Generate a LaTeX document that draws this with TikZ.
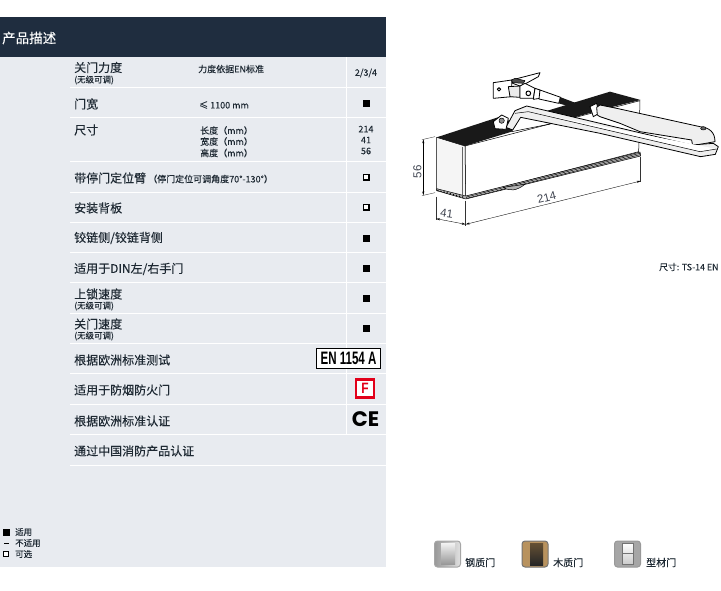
\documentclass[tikz,border=0pt]{standalone}
\usepackage{fontspec}
\setmainfont{Noto Sans CJK SC}[FakeBold=0.12]
\newfontfamily\latinfont{Liberation Sans}
\newfontfamily\cefont{Poppins}
\usetikzlibrary{arrows.meta}

\definecolor{panelbg}{HTML}{E8EBF0}
\definecolor{headbg}{HTML}{1F2D3F}
\definecolor{inktext}{HTML}{1E2933}
\definecolor{dimtext}{HTML}{3F4450}
\definecolor{firered}{HTML}{E2001A}
\definecolor{armgray}{HTML}{EFEFEF}
\definecolor{wood}{HTML}{B8925E}

\tikzset{
  rowlabel/.style={anchor=west,inner sep=0pt,text=inktext,font=\fontsize{12}{12}\selectfont},
  rowsmall/.style={anchor=west,inner sep=0pt,text=inktext,font=\fontsize{8.5}{8.5}\selectfont},
  rowvalue/.style={inner sep=0pt,text=inktext,font=\fontsize{9}{9}\selectfont},
  fullmark/.style={draw=none,fill=black,minimum size=7pt,inner sep=0pt},
  openmark/.style={draw=black,fill=white,line width=1.5pt,minimum size=5.5pt,inner sep=0pt},
  iconbox/.style={rounded corners=3pt,minimum size=26pt,inner sep=0pt,draw=#1,line width=1pt},
  icontext/.style={anchor=west,inner sep=0pt,text=inktext,font=\fontsize{10}{10}\selectfont},
  dimline/.style={draw=black,line width=.35pt,{Stealth[length=4pt,width=2pt]}-{Stealth[length=4pt,width=2pt]}},
  extline/.style={draw=black!80,line width=.35pt},
  dimlabel/.style={inner sep=0pt,text=dimtext,font=\latinfont\fontsize{11.5}{11.5}\selectfont},
  body/.style={draw=black,line width=.5pt,line join=round},
}

\begin{document}
\begin{tikzpicture}[x=1pt,y=-1pt]
\useasboundingbox (0,0) rectangle (721,590);

% panel
\fill[panelbg] (0,57) rectangle (386,567);
\fill[headbg] (0,17) rectangle (386,57);
\node (title) at (2,38) [anchor=west,inner sep=0pt,text=white,font=\fontsize{13.5}{13.5}\selectfont] {产品描述};

% row lines
\foreach \rowy in {87,117,161,192,222,252,282,313,343,373,404,434,465}
  \draw[white,line width=1pt] (70,\rowy) -- (386,\rowy);
\draw[white,line width=1pt] (346.5,57) -- (346.5,434);

% rows
\node (closeforce) at (74,67.5) [rowlabel] {关门力度};
\node (closeforcesub) at (74,80) [rowsmall] {(无级可调)};
\node (forcenote) at (198,69) [rowvalue,anchor=west] {力度依据EN标准};
\node (forceval) at (366,73) [rowvalue] {2/3/4};

\node (width) at (74,104) [rowlabel] {门宽};
\node (widthval) at (199,105) [rowvalue,anchor=west] {≤ 1100 mm};
\node (widthmark) at (366,103) [fullmark] {};

\node (size) at (74,130) [rowlabel] {尺寸};
\node (sizel) at (200,130.5) [rowvalue,anchor=west] {长度（mm）};
\node (sizew) at (200,141.5) [rowvalue,anchor=west] {宽度（mm）};
\node (sizeh) at (200,153) [rowvalue,anchor=west] {高度（mm）};
\node (lval) at (366,129) [rowvalue] {214};
\node (wval) at (366,140) [rowvalue] {41};
\node (hval) at (366,151) [rowvalue] {56};

\node (holdarm) at (74,178) [rowlabel] {带停门定位臂};
\node (holdnote) at (148,179) [rowvalue,anchor=west] {（停门定位可调角度70°-130°）};
\node (holdmark) at (366,177) [openmark] {};

\node (plate) at (74,208) [rowlabel] {安装背板};
\node (platemark) at (366,207) [openmark] {};

\node (hinge) at (74,238) [rowlabel] {铰链侧/铰链背侧};
\node (hingemark) at (366,238) [fullmark] {};

\node (din) at (74,269) [rowlabel] {适用于DIN左/右手门};
\node (dinmark) at (366,268) [fullmark] {};

\node (latch) at (74,294) [rowlabel] {上锁速度};
\node (latchsub) at (74,306) [rowsmall] {(无级可调)};
\node (latchmark) at (366,298) [fullmark] {};

\node (closing) at (74,324) [rowlabel] {关门速度};
\node (closingsub) at (74,336) [rowsmall] {(无级可调)};
\node (closingmark) at (366,328) [fullmark] {};

\node (entest) at (74,360) [rowlabel] {根据欧洲标准测试};
\node (enbadge) at (348.5,358.5) [draw=black,fill=white,line width=1pt,minimum width=64pt,minimum height=20pt,inner sep=0pt,font=\latinfont\bfseries\fontsize{18}{18}\selectfont] {\scalebox{.64}[1]{EN 1154 A}};

\node (fire) at (74,390) [rowlabel] {适用于防烟防火门};
\node (firebadge) at (365,388.5) [draw=firered,fill=white,line width=2.5pt,minimum size=18pt,inner sep=0pt,text=firered,font=\latinfont\bfseries\fontsize{15}{15}\selectfont] {\scalebox{.8}[1]{F}};

\node (eucert) at (74,421) [rowlabel] {根据欧洲标准认证};
\node (cemark) at (365.5,419.5) [inner sep=0pt,font=\cefont\bfseries\fontsize{21}{21}\selectfont] {CE};

\node (cncert) at (74,451) [rowlabel] {通过中国消防产品认证};

% legend
\node (legfull) at (6,532) [fullmark] {};
\node (legdash) at (6,543) [inner sep=0pt,fill=black,minimum width=5pt,minimum height=1pt] {};
\node (legopen) at (6,554) [openmark,minimum size=4.5pt,line width=1.2pt] {};
\node (legfulltext) at (15,532) [rowsmall] {适用};
\node (legdashtext) at (15,543) [rowsmall] {不适用};
\node (legopentext) at (15,554) [rowsmall] {可选};

% door closer, coordinates taken at 3x
\begin{scope}[shift={(400,50)},scale=1/3]
\coordinate (topleft) at (110,262);
\coordinate (topfront) at (195,288);
\coordinate (botleft) at (110,422);
\coordinate (botfront) at (197,447);
\coordinate (botright) at (722,318);
\coordinate (topright) at (720,152);

% box
\draw[body,fill=white] (topfront) -- (topright) -- (716,305) -- (197,440) -- cycle;
\draw[body,fill=black!4] (topleft) -- (topfront) -- (197,440) -- (110,420) -- cycle;
\draw[black!60,line width=.8pt] (188,290) -- (188,438);
\fill[black!90] (topleft) -- (topfront) -- (335,245) -- (350,222) -- (300,200) -- cycle;
\fill[black!90] (400,195) -- (630,125) -- (722,150) -- (640,170) -- (450,222) -- cycle;
\draw[body] (335,245) -- (450,222);
\draw[body,fill=black!30] (botleft) -- (botfront) -- (botright) -- (720,306) -- (197,438) -- (110,416) -- cycle;
\draw[body,fill=white] (200,441) -- (720,310) -- (720,314) -- (200,445) -- cycle;
\draw[body,fill=black!30] (310,412) .. controls (330,425) and (350,422) .. (375,403) -- cycle;
\draw[black,dotted,line width=1.2pt] (112,421) -- (195,443);

% bracket on top
\draw[body,fill=white,line width=.8pt] (280,98) -- (335,90) -- (335,140) -- (280,145) -- cycle;
\draw[body,fill=black!8,line width=.8pt] (325,110) -- (360,108) -- (360,142) -- (330,140) -- cycle;
\draw[body,fill=white,line width=.8pt] (335,90) -- (420,68) -- (415,80) -- (375,102) -- (360,108) -- (338,100) -- cycle;
\draw[body,fill=black!70] (335,90) -- (345,85) -- (375,92) -- (370,100) -- (338,98) -- cycle;
\draw[body,fill=white,line width=.8pt] (360,108) -- (375,100) -- (405,115) -- (400,145) -- (360,145) -- cycle;
\draw[body,fill=white,line width=.8pt] (405,115) -- (420,120) -- (420,145) -- (400,148) -- cycle;
\draw[body,fill=white,line width=1pt] (297,118) circle (5);
\draw[body,fill=white,line width=1pt] (385,130) circle (7);
\draw[body,fill=white,line width=.8pt] (420,120) -- (482,142) -- (476,160) -- (417,147) -- cycle;
\fill[black!90] (480,141) -- (572,176) -- (566,186) -- (476,160) -- cycle;
\draw[body,fill=white,line width=.8pt] (570,170) -- (590,160) -- (597,190) -- (580,200) -- cycle;

% arm
\draw[body,fill=armgray,line width=.8pt] (590,172) -- (600,165) -- (650,175) -- (900,230) .. controls (930,233) and (945,248) .. (945,275) -- (878,287) -- (875,270) -- (720,245) -- (660,220) -- (600,200) -- (592,195) -- cycle;
\draw[body,fill=armgray,line width=.8pt] (345,182) -- (380,168) -- (600,220) -- (875,285) -- (940,280) -- (955,290) -- (946,313) -- (902,320) -- (600,250) -- (362,202) -- (338,240) -- (318,232) -- cycle;
\draw[body,fill=white] (385,185) -- (600,235) -- (900,305) -- (950,297);
\draw[body] (345,190) -- (385,185);
\draw[body,fill=black!60] (910,235) ellipse (8 and 5);
\draw[body,fill=white,line width=.8pt] (280,215) -- (305,195) -- (325,205) -- (318,238) -- (285,236) -- cycle;
\draw[body,fill=black!45] (305,212) circle (8);

% dimensions
\coordinate (leftup) at (70,268);
\coordinate (leftdn) at (70,436);
\coordinate (widthl) at (108,506);
\coordinate (widthr) at (197,523);
\coordinate (lengthr) at (722,393);
\draw[extline] (66,269) -- (105,260);
\draw[extline] (66,437) -- (105,428);
\draw[extline] (108,440) -- (108,510);
\draw[extline] (197,452) -- (197,528);
\draw[extline] (722,322) -- (722,397);
\draw[dimline] (leftup) -- (leftdn);
\draw[dimline] (widthl) -- (widthr);
\draw[dimline] (widthr) -- (lengthr);
\node (dimh) at (52,365) [dimlabel,rotate=90] {56};
\node (dimw) at (140,491) [dimlabel,rotate=-8] {41};
\node (diml) at (440,442) [dimlabel,rotate=14] {214};
\end{scope}

\node (sizeref) at (659,267) [rowsmall,font=\fontsize{8.8}{8.8}\selectfont] {尺寸: TS-14 EN};

% door icons
\node (steelicon) at (447.5,554) [iconbox=black!35,left color=black!40,right color=black!12] {};
\fill[top color=black!5,bottom color=black!40] (441,543) rectangle (455,564);
\node (steeltext) at (465,562.5) [icontext] {钢质门};

\node (woodicon) at (535,554) [iconbox=black!55,fill=wood] {};
\fill[top color=wood!55!black,bottom color=black!85] (530,543) rectangle (543,565);
\node (woodtext) at (553,562.5) [icontext] {木质门};

\node (profileicon) at (627.5,554) [iconbox=black!40,fill=black!35] {};
\fill[top color=white,bottom color=black!20,draw=black!55] (622,543) rectangle (633,564);
\draw[black!55] (622,553.5) -- (633,553.5);
\node (profiletext) at (646,562.5) [icontext] {型材门};
\end{tikzpicture}
\end{document}
